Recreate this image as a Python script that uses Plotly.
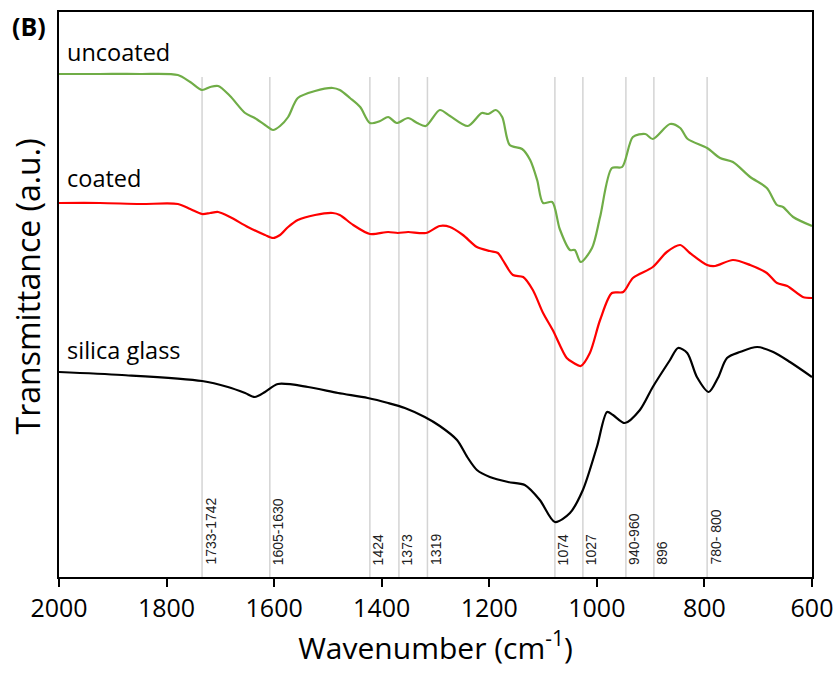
import plotly.graph_objects as go

# ---- data (wavenumber in cm-1, transmittance in arbitrary units) ----
wn_uncoated = [2000,1924,1849,1779,1756,1734,1719,1704,1682,1654,1636,1617,1602,1589,1574,1556,1524,1491,1478,1459,
               1440,1422,1403,1388,1372,1351,1334,1318,1292,1273,1240,1214,1202,1188,1176,1162,1139,1124,1111,1100,
               1083,1069,1050,1041,1030,1009,994,972,953,933,910,896,864,845,831,795,771,747,715,684,665,654,635,600]
t_uncoated = [503,503,503,502,495,487,490,491,481,464,459,452,447,451,460,479,486,489,487,479,
              470,454,456,460,454,459,454,451,467,461,451,464,463,467,460,432,428,417,397,374,
              375,348,327,327,315,329,360,409,410,440,443,438,453,449,438,429,419,415,400,389,372,370,360,351]

wn_coated = [2000,1924,1849,1779,1756,1734,1719,1704,1682,1649,1617,1602,1589,1574,1556,1524,1491,1478,1453,1422,
             1388,1370,1351,1318,1292,1273,1249,1223,1199,1184,1175,1156,1137,1119,1100,1082,1056,1043,1030,1013,
             994,972,951,933,896,870,845,827,795,780,747,715,684,665,646,617,600]
t_coated = [374,374,373,373,368,363,364,365,360,350,342,339,342,350,357,362,364,362,352,343,
            345,344,345,344,351,350,342,330,326,324,317,302,300,287,264,247,219,214,211,224,
            257,284,285,299,310,325,332,324,312,311,317,312,304,294,291,280,279]

wn_silica = [2000,1883,1734,1686,1654,1636,1617,1593,1537,1481,1426,1388,1357,1320,1292,1260,1241,1223,1199,1165,
             1134,1106,1078,1050,1026,1000,981,970,948,920,896,864,849,832,814,792,775,758,734,702,672,641,600]
t_silica = [205,202,196,190,184,180,185,193,190,184,179,174,169,160,151,137,120,107,100,95,
            92,77,55,64,87,130,165,162,154,167,190,217,229,224,200,185,199,219,225,230,225,215,200]

band_wn = [1734, 1608, 1422, 1368, 1315, 1078, 1026, 946, 894, 795]
band_labels = ["1733-1742", "1605-1630", "1424", "1373", "1319", "1074", "1027", "940-960", "896", "780- 800"]
band_top = 500

series_names = ["uncoated", "coated", "silica glass"]
series_label_wn = [1989, 1989, 1989]
series_label_t = [525, 399, 227]

x_ticks = [2000, 1800, 1600, 1400, 1200, 1000, 800, 600]

FONT = "Open Sans"

fig = go.Figure()

fig.add_trace(go.Scatter(x=wn_uncoated, y=t_uncoated, mode="lines", name="uncoated",
                         line=dict(color="#70AD47", width=2.2, shape="spline", smoothing=0.8)))
fig.add_trace(go.Scatter(x=wn_coated, y=t_coated, mode="lines", name="coated",
                         line=dict(color="#FF0000", width=2.2, shape="spline", smoothing=0.8)))
fig.add_trace(go.Scatter(x=wn_silica, y=t_silica, mode="lines", name="silica glass",
                         line=dict(color="#000000", width=2.2, shape="spline", smoothing=0.8)))

for w, lab in zip(band_wn, band_labels):
    fig.add_shape(type="line", x0=w, x1=w, y0=0, y1=band_top, xref="x", yref="y",
                  line=dict(color="#D4D4D4", width=1.5), layer="below")
    fig.add_annotation(x=w, y=10, xref="x", yref="y", text=lab, textangle=-90,
                       showarrow=False, xanchor="center", yanchor="bottom", xshift=8,
                       font=dict(family="Liberation Sans, Arial", size=14, color="#222222"))

for name, xw, yt in zip(series_names, series_label_wn, series_label_t):
    fig.add_annotation(x=xw, y=yt, xref="x", yref="y", text=name, showarrow=False,
                       xanchor="left", yanchor="middle",
                       font=dict(family=FONT, size=23.5, color="#000000"))

fig.add_annotation(x=-0.065, y=0.975, xref="paper", yref="paper", text="<b>(B)</b>",
                   showarrow=False, xanchor="left", yanchor="middle",
                   font=dict(family=FONT, size=25, color="#000000"))

# y-axis title (placed as rotated text beside the axis)
fig.add_annotation(x=-0.042, y=0.515, xref="paper", yref="paper", text="Transmittance (a.u.)",
                   textangle=-90, showarrow=False, xanchor="center", yanchor="middle",
                   font=dict(family=FONT, size=32, color="#000000"))

fig.update_layout(
    width=837, height=677,
    margin=dict(l=59, r=25, t=12, b=100),
    paper_bgcolor="white", plot_bgcolor="white",
    showlegend=False,
    font=dict(family=FONT, color="#000000"),
)
fig.update_xaxes(
    range=[2000, 600], tickvals=x_ticks, ticktext=[str(v) for v in x_ticks],
    showgrid=False, zeroline=False, automargin=False,
    showline=True, linecolor="#000000", linewidth=2, mirror=True,
    ticks="outside", ticklen=8, tickwidth=1.5, tickcolor="#000000",
    tickfont=dict(family=FONT, size=25, color="#000000"),
    title=dict(text="Wavenumber (cm<sup>-1</sup>)", font=dict(family=FONT, size=30, color="#000000"), standoff=14),
)
fig.update_yaxes(
    range=[0, 565], showticklabels=False, ticks="",
    showgrid=False, zeroline=False, automargin=False,
    showline=True, linecolor="#000000", linewidth=2, mirror=True,
)

fig.write_html("out.html")
